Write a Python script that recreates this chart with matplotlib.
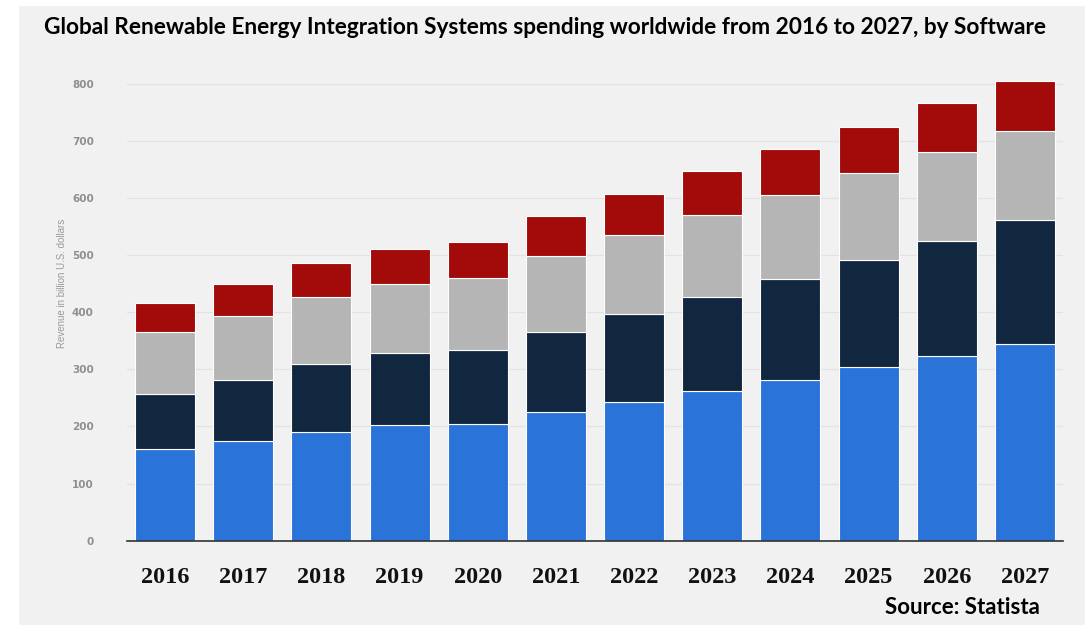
import matplotlib
matplotlib.use("Agg")
import matplotlib.pyplot as plt
from matplotlib.patches import Rectangle
import numpy as np

years = ["2016", "2017", "2018", "2019", "2020", "2021", "2022", "2023", "2024", "2025", "2026", "2027"]
# cumulative tops (billion U.S. dollars)
blue_top = [161, 175, 190, 202, 205, 225, 243, 262, 282, 304, 324, 345]
navy_top = [257, 281, 309, 328, 333, 365, 396, 427, 458, 492, 525, 561]
gray_top = [366, 393, 426, 450, 459, 499, 535, 571, 606, 643, 681, 718]
red_top = [416, 449, 486, 511, 523, 568, 607, 647, 685, 725, 766, 805]
yticks = [0, 100, 200, 300, 400, 500, 600, 700, 800]

W, H = 1092, 631
fig = plt.figure(figsize=(W / 100, H / 100), dpi=100)
fig.patch.set_facecolor("white")

# light gray panel
fig.patches.append(Rectangle((19 / W, (H - 625) / H), (1085 - 19) / W, (625 - 6) / H,
                             transform=fig.transFigure, facecolor="#f1f1f1",
                             edgecolor="none", zorder=-5))

y0_px = 540.7
px_per_unit = (540.7 - 83.7) / 800.0
ytop = 830
ax = fig.add_axes([127 / W, (H - y0_px) / H, (1063 - 127) / W, ytop * px_per_unit / H])
ax.set_zorder(2)
ax.set_facecolor("none")

x = np.arange(len(years))
blue = np.array(blue_top)
navy = np.array(navy_top) - blue
gray = np.array(gray_top) - np.array(navy_top)
red = np.array(red_top) - np.array(gray_top)

w = 0.767
kw = dict(width=w, edgecolor="white", linewidth=0.8, zorder=3)
ax.bar(x, blue, color="#2a73d9", **kw)
ax.bar(x, navy, bottom=blue, color="#11263f", **kw)
ax.bar(x, gray, bottom=np.array(navy_top), color="#b5b5b5", **kw)
ax.bar(x, red, bottom=np.array(gray_top), color="#a30a0a", **kw)

ax.set_xlim(-0.486, 11.486)
ax.set_ylim(0, ytop)
ax.set_yticks(yticks)
ax.set_yticklabels([str(v) for v in yticks], fontsize=7.5, color="#8f8f8f", fontweight="bold")
ax.tick_params(axis="y", length=0, pad=24)
ax.set_xticks(x)
ax.set_xticklabels(years, fontsize=17.5, fontweight="bold", family="Liberation Serif", color="#111111")
ax.tick_params(axis="x", length=0, pad=19)

ax.grid(axis="y", color="#e2e2e2", linewidth=0.9, zorder=1)
for s in ["top", "right", "left"]:
    ax.spines[s].set_visible(False)
ax.spines["bottom"].set_color("#333333")
ax.spines["bottom"].set_linewidth(1.2)
ax.spines["bottom"].set_zorder(4)

fig.text(62 / W, (H - 283) / H, "Revenue in billion U.S. dollars", rotation=90,
         ha="center", va="center", fontsize=7, color="#9a9a9a", family="Liberation Sans")

fig.text(545 / W, (H - 27) / H,
         "Global Renewable Energy Integration Systems spending worldwide from 2016 to 2027, by Software",
         ha="center", va="center", fontsize=16.3, fontweight="bold", family="Lato", color="black")

fig.text(1040 / W, (H - 608) / H, "Source: Statista", ha="right", va="center",
         fontsize=16, fontweight="bold", family="Lato", color="black")

fig.savefig("out.png", dpi=100)
